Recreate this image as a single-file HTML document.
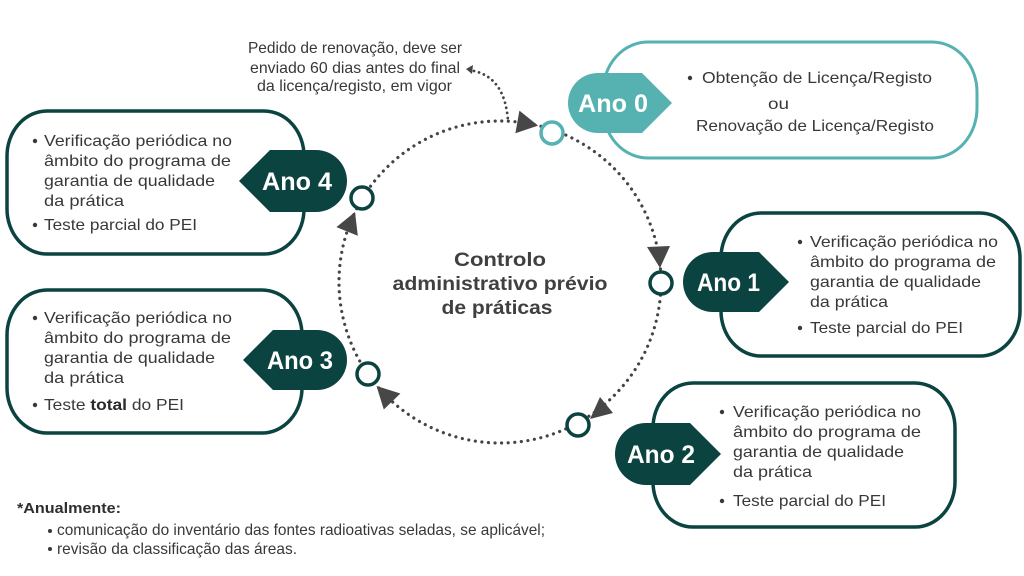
<!DOCTYPE html>
<html>
<head>
<meta charset="utf-8">
<style>
  html,body{margin:0;padding:0;background:#ffffff;}
  svg{display:block;}
  .t{font-family:"Liberation Sans",sans-serif;fill:#383838;font-size:16px;}
  .b{font-family:"Liberation Sans",sans-serif;font-weight:bold;}
  .tag{font-family:"Liberation Sans",sans-serif;font-weight:bold;fill:#ffffff;font-size:25px;}
</style>
</head>
<body>
<svg width="1024" height="576" viewBox="0 0 1024 576" xmlns="http://www.w3.org/2000/svg">
  <rect x="0" y="0" width="1024" height="576" fill="#ffffff"/>

  <!-- dotted main circle -->
  <circle cx="500" cy="282" r="161" fill="none" stroke="#444444" stroke-width="3.2" stroke-dasharray="0.01 6.6" stroke-linecap="round"/>

  <!-- annotation dotted curve -->
  <path d="M474,71 Q505,78 508,121" fill="none" stroke="#444444" stroke-width="2.8" stroke-dasharray="0.01 5.2" stroke-linecap="round"/>
  <polygon points="466,69 473,65 472,74" fill="#444444"/>

  <!-- arrowheads -->
  <polygon points="538.1,125.6 515.4,133.2 519.4,110.6" fill="#474747"/>
  <polygon points="660,268 647,247 670,246" fill="#474747"/>
  <polygon points="590,419 600,397 613,413" fill="#474747"/>
  <polygon points="376.5,386 400.4,393.5 383.8,409.5" fill="#474747"/>
  <polygon points="355,212 336.4,227.1 357.8,235.7" fill="#474747"/>

  <!-- small circles -->
  <circle cx="552" cy="133" r="11" fill="#ffffff" stroke="#55b2b1" stroke-width="3.5"/>
  <circle cx="661" cy="283" r="11" fill="#ffffff" stroke="#0b4341" stroke-width="3.5"/>
  <circle cx="578" cy="425" r="11" fill="#ffffff" stroke="#0b4341" stroke-width="3.5"/>
  <circle cx="368" cy="374" r="11" fill="#ffffff" stroke="#0b4341" stroke-width="3.5"/>
  <circle cx="362" cy="198" r="11" fill="#ffffff" stroke="#0b4341" stroke-width="3.5"/>

  <!-- center text -->
  <text class="b" x="500" y="266" font-size="19" fill="#404040" text-anchor="middle" textLength="92" lengthAdjust="spacingAndGlyphs">Controlo</text>
  <text class="b" x="500" y="290" font-size="19" fill="#404040" text-anchor="middle" textLength="215" lengthAdjust="spacingAndGlyphs">administrativo prévio</text>
  <text class="b" x="497" y="314" font-size="19" fill="#404040" text-anchor="middle" textLength="111" lengthAdjust="spacingAndGlyphs">de práticas</text>

  <!-- annotation text -->
  <text class="t" x="248" y="53" font-size="15" textLength="214" lengthAdjust="spacingAndGlyphs">Pedido de renovação, deve ser</text>
  <text class="t" x="250" y="73" font-size="15" textLength="210" lengthAdjust="spacingAndGlyphs">enviado 60 dias antes do final</text>
  <text class="t" x="257" y="91" font-size="15" textLength="195" lengthAdjust="spacingAndGlyphs">da licença/registo, em vigor</text>

  <!-- ===== Ano 0 ===== -->
  <rect x="603" y="42" width="374" height="116" rx="45" ry="50" fill="#ffffff" stroke="#55b2b1" stroke-width="3"/>
  <path d="M598,73 H642 L672,103 L642,133 H598 A30,30 0 0 1 598,73 Z" fill="#55b2b1"/>
  <text class="tag" x="578" y="112" textLength="70" lengthAdjust="spacingAndGlyphs">Ano 0</text>
  <circle cx="690" cy="78" r="2.2" fill="#383838"/>
  <text class="t" x="702" y="83" textLength="230" lengthAdjust="spacingAndGlyphs">Obtenção de Licença/Registo</text>
  <text class="t" x="768" y="109" textLength="21" lengthAdjust="spacingAndGlyphs">ou</text>
  <text class="t" x="696" y="131" textLength="238" lengthAdjust="spacingAndGlyphs">Renovação de Licença/Registo</text>

  <!-- ===== Ano 1 ===== -->
  <rect x="721" y="213" width="299" height="143" rx="40" ry="45" fill="#ffffff" stroke="#0b4341" stroke-width="3.5"/>
  <path d="M713,252 H759 L789,282 L759,312 H713 A30,30 0 0 1 713,252 Z" fill="#0b4341"/>
  <text class="tag" x="697" y="291" textLength="63" lengthAdjust="spacingAndGlyphs">Ano 1</text>
  <circle cx="800" cy="242" r="2.2" fill="#383838"/>
  <text class="t" x="810" y="247" textLength="188" lengthAdjust="spacingAndGlyphs">Verificação periódica no</text>
  <text class="t" x="810" y="267" textLength="186" lengthAdjust="spacingAndGlyphs">âmbito do programa de</text>
  <text class="t" x="810" y="287" textLength="171" lengthAdjust="spacingAndGlyphs">garantia de qualidade</text>
  <text class="t" x="810" y="307" textLength="78" lengthAdjust="spacingAndGlyphs">da prática</text>
  <circle cx="800" cy="328" r="2.2" fill="#383838"/>
  <text class="t" x="810" y="333" textLength="153" lengthAdjust="spacingAndGlyphs">Teste parcial do PEI</text>

  <!-- ===== Ano 2 ===== -->
  <rect x="653" y="383" width="302" height="144" rx="40" ry="45" fill="#ffffff" stroke="#0b4341" stroke-width="3.5"/>
  <path d="M646,423 H690 L721,454 L690,485 H646 A31,31 0 0 1 646,423 Z" fill="#0b4341"/>
  <text class="tag" x="627" y="463" textLength="68" lengthAdjust="spacingAndGlyphs">Ano 2</text>
  <circle cx="722" cy="412" r="2.2" fill="#383838"/>
  <text class="t" x="733" y="417" textLength="188" lengthAdjust="spacingAndGlyphs">Verificação periódica no</text>
  <text class="t" x="733" y="437" textLength="188" lengthAdjust="spacingAndGlyphs">âmbito do programa de</text>
  <text class="t" x="733" y="457" textLength="171" lengthAdjust="spacingAndGlyphs">garantia de qualidade</text>
  <text class="t" x="733" y="477" textLength="79" lengthAdjust="spacingAndGlyphs">da prática</text>
  <circle cx="722" cy="501" r="2.2" fill="#383838"/>
  <text class="t" x="733" y="506" textLength="153" lengthAdjust="spacingAndGlyphs">Teste parcial do PEI</text>

  <!-- ===== Ano 4 ===== -->
  <rect x="7" y="111" width="297" height="143" rx="40" ry="45" fill="#ffffff" stroke="#0b4341" stroke-width="3.5"/>
  <path d="M316,150 H270 L239,181 L270,212 H316 A31,31 0 0 0 316,150 Z" fill="#0b4341"/>
  <text class="tag" x="262" y="190" textLength="70" lengthAdjust="spacingAndGlyphs">Ano 4</text>
  <circle cx="35" cy="141" r="2.2" fill="#383838"/>
  <text class="t" x="44" y="146" textLength="188" lengthAdjust="spacingAndGlyphs">Verificação periódica no</text>
  <text class="t" x="44" y="166" textLength="187" lengthAdjust="spacingAndGlyphs">âmbito do programa de</text>
  <text class="t" x="44" y="186" textLength="171" lengthAdjust="spacingAndGlyphs">garantia de qualidade</text>
  <text class="t" x="44" y="206" textLength="80" lengthAdjust="spacingAndGlyphs">da prática</text>
  <circle cx="35" cy="225" r="2.2" fill="#383838"/>
  <text class="t" x="44" y="230" textLength="153" lengthAdjust="spacingAndGlyphs">Teste parcial do PEI</text>

  <!-- ===== Ano 3 ===== -->
  <rect x="7" y="290" width="295" height="143" rx="40" ry="45" fill="#ffffff" stroke="#0b4341" stroke-width="3.5"/>
  <path d="M317,330 H273 L243,360 L273,390 H317 A30,30 0 0 0 317,330 Z" fill="#0b4341"/>
  <text class="tag" x="267" y="369" textLength="66" lengthAdjust="spacingAndGlyphs">Ano 3</text>
  <circle cx="35" cy="318" r="2.2" fill="#383838"/>
  <text class="t" x="44" y="323" textLength="188" lengthAdjust="spacingAndGlyphs">Verificação periódica no</text>
  <text class="t" x="44" y="343" textLength="187" lengthAdjust="spacingAndGlyphs">âmbito do programa de</text>
  <text class="t" x="44" y="363" textLength="171" lengthAdjust="spacingAndGlyphs">garantia de qualidade</text>
  <text class="t" x="44" y="383" textLength="80" lengthAdjust="spacingAndGlyphs">da prática</text>
  <circle cx="35" cy="405" r="2.2" fill="#383838"/>
  <text class="t" x="44" y="410" textLength="140" lengthAdjust="spacingAndGlyphs">Teste <tspan font-weight="bold" fill="#2a2a2a">total</tspan> do PEI</text>

  <!-- footnote -->
  <text class="b" x="17" y="513" font-size="15" fill="#2e2e2e" textLength="104" lengthAdjust="spacingAndGlyphs">*Anualmente:</text>
  <circle cx="50" cy="531" r="2" fill="#383838"/>
  <text class="t" x="57" y="535" font-size="15" textLength="488" lengthAdjust="spacingAndGlyphs">comunicação do inventário das fontes radioativas seladas, se aplicável;</text>
  <circle cx="50" cy="549" r="2" fill="#383838"/>
  <text class="t" x="57" y="554" font-size="15" textLength="240" lengthAdjust="spacingAndGlyphs">revisão da classificação das áreas.</text>
</svg>
</body>
</html>
